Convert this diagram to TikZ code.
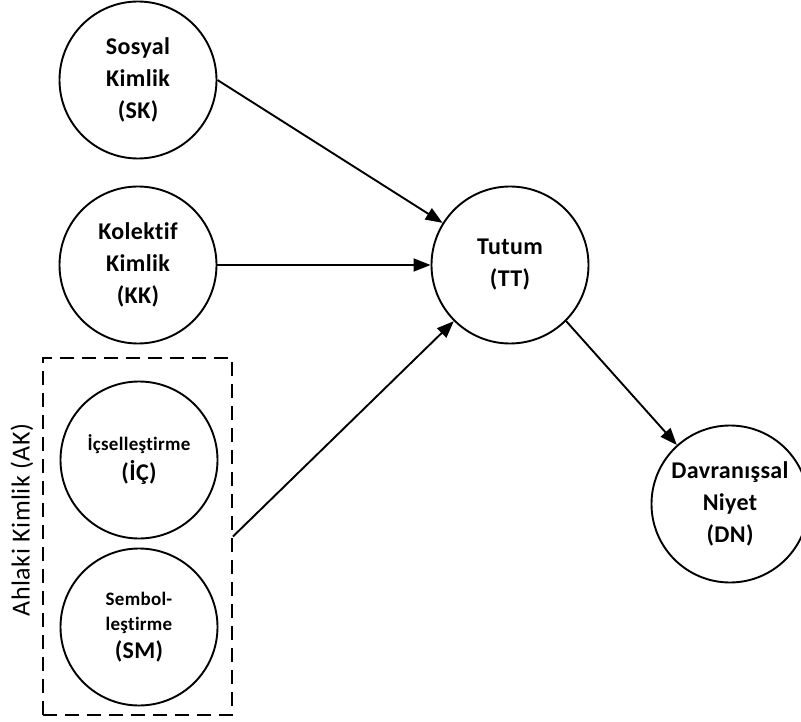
\documentclass[tikz,border=0pt]{standalone}
\usepackage{fontspec}
\setmainfont{Carlito}[LetterSpace=1.5, Ligatures=NoCommon]
\newfontfamily\sidefont{Carlito}[LetterSpace=2, Ligatures=NoCommon]
\usetikzlibrary{arrows.meta}
\begin{document}
\begin{tikzpicture}[x=1pt,y=-1pt,
  circ/.style={circle, draw, line width=1.9pt, minimum size=157pt, inner sep=0pt, align=center, font=\bfseries\fontsize{24}{32}\selectfont},
  arr/.style={line width=1.9pt, -{Triangle[length=17pt,width=13pt]}},
  grp/.style={draw, line width=1.9pt, dash pattern=on 14pt off 8pt, inner sep=0pt},
  side/.style={rotate=90, font=\sidefont\fontsize{26}{30}\selectfont},
]
\useasboundingbox (0,0) rectangle (801,722);
\node[circ] (SK) at (138,80) {Sosyal\\Kimlik\\(SK)};
\node[circ] (KK) at (138,265) {Kolektif\\Kimlik\\(KK)};
\node[circ] (TT) at (510,265) {Tutum\\(TT)};
\node[circ] (DN) at (730,504) {Davranışsal\\Niyet\\(DN)};
\node[grp, minimum width=189pt, minimum height=357pt] (AK) at (137.5,536.5) {};
\node[circ] (IC) at (139,460) {{\fontsize{19}{24}\selectfont İçselleştirme}\\[-2pt](İÇ)};
\node[circ] (SM) at (139,627) {{\fontsize{19}{24}\selectfont Sembol-}\\[-7pt]{\fontsize{19}{24}\selectfont leştirme}\\[-4pt](SM)};
\node[side] (AKl) at (22,520) {Ahlaki Kimlik (AK)};
\draw[arr] (SK.east) -- (TT.148);
\draw[arr] (KK.east) -- (TT.west);
\draw[arr] (AK.east) -- (TT.225);
\draw[arr] (TT.-45) -- (DN.132);
\end{tikzpicture}
\end{document}
